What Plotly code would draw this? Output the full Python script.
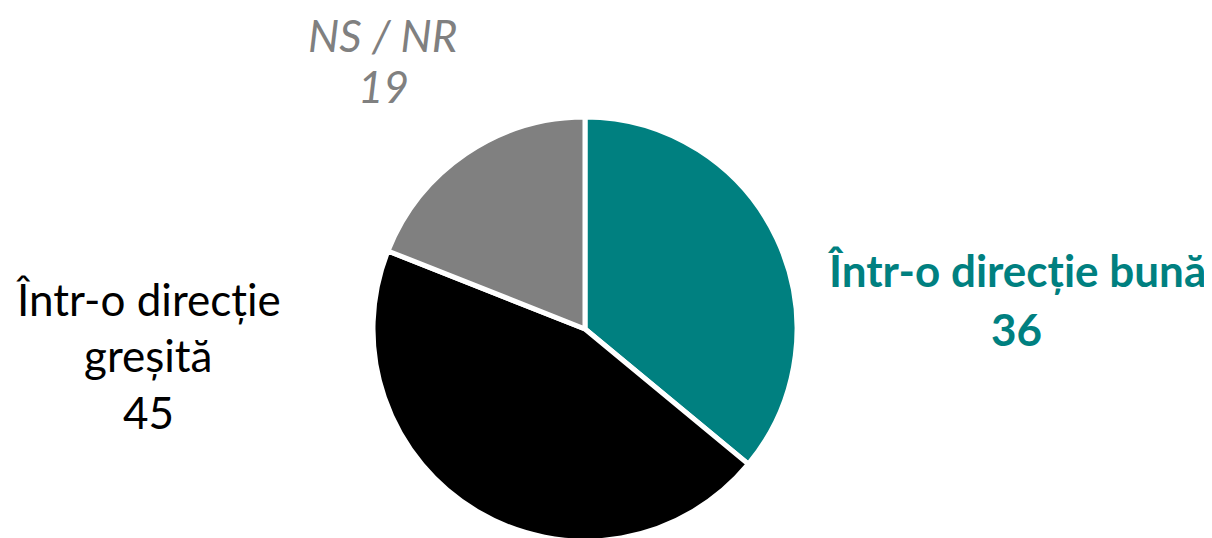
import plotly.graph_objects as go

categories = ["Într-o direcție bună", "Într-o direcție greșită", "NS / NR"]
values = [36, 45, 19]
colors = ["#008080", "#000000", "#808080"]

W, H = 1212, 560
OFF = 8  # browser body margin
cx, cy, r = 585 - OFF, 329 - OFF, 212

fig = go.Figure(go.Pie(
    labels=categories, values=values, sort=False, direction="clockwise", rotation=0,
    marker=dict(colors=colors, line=dict(color="white", width=5)),
    textinfo="none", hoverinfo="label+value", showlegend=False,
    domain=dict(x=[(cx - r) / W, (cx + r) / W], y=[(H - cy - r) / H, (H - cy + r) / H]),
))

def ann(text, px, py, size, color, bold=False, italic=False):
    t = text
    if bold:
        t = "<b>" + t + "</b>"
    if italic:
        t = "<i>" + t + "</i>"
    fig.add_annotation(text=t, x=(px - OFF) / W, y=1 - (py - OFF - 3) / H, xref="paper", yref="paper",
                       xanchor="center", yanchor="middle", showarrow=False, borderpad=0,
                       font=dict(family="Lato", size=size, color=color))

FS = 44
# right label (bold teal)
ann("Într-o direcție bună", 1016, 273, FS, colors[0], bold=True)
ann(str(values[0]), 1016, 332, FS, colors[0], bold=True)
# left label
ann("Într-o direcție", 148, 302, FS, "#000000")
ann("greșită", 148, 358, FS, "#000000")
ann(str(values[1]), 148, 415, FS, "#000000")
# top label: anchored to the top edge so its box stays inside the page
fig.add_annotation(text="<i>NS / NR</i>", x=(383 - OFF) / W, y=1, xref="paper", yref="paper",
                   xanchor="center", yanchor="top", showarrow=False, borderpad=0,
                   font=dict(family="Lato", size=FS, color="#808080"))
ann(str(values[2]), 383, 89, FS, "#808080", italic=True)

fig.update_layout(width=W, height=H, margin=dict(l=0, r=0, t=0, b=0),
                  paper_bgcolor="white", plot_bgcolor="white")
fig.write_html("out.html")
